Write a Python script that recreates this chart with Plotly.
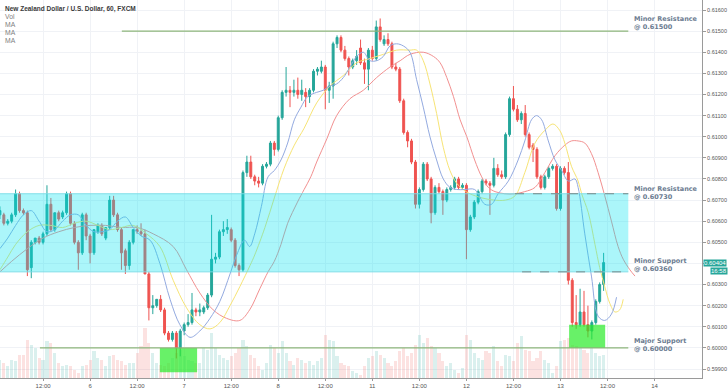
import plotly.graph_objects as go

title_text = "New Zealand Dollar / U.S. Dollar, 60, FXCM"
legend_items = ["Vol", "MA", "MA", "MA"]

hours = list(range(1, 156))
opens = [
    .6063, .6063, .6059, .6060, .6063, .6073, .6065, .6064, .6038, .6050,
    .6052, .6050, .6054, .6068, .6056, .6064, .6062, .6064, .6073, .6059,
    .6050, .6045, .6063, .6053, .6045, .6055, .6058, .6052, .6057, .6070,
    .6063, .6056, .6046, .6039, .6050, .6056, .6055, .6054, .6035, .6019,
    .6020, .6023, .6018, .6007, .6004, .6007, .6000, .6008, .6011, .6012,
    .6018, .6017, .6017, .6019, .6025, .6042, .6043, .6055, .6056, .6056,
    .6051, .6039, .6037, .6083, .6088, .6081, .6079, .6078, .6086, .6087,
    .6097, .6094, .6109, .6121, .6122, .6121, .6122, .6120, .6121, .6119,
    .6122, .6131, .6131, .6133, .6122, .6124, .6144, .6147, .6141, .6137,
    .6133, .6136, .6142, .6135, .6132, .6141, .6137, .6152, .6144, .6146,
    .6144, .6133, .6132, .6117, .6102, .6098, .6088, .6068, .6075, .6087,
    .6080, .6064, .6076, .6074, .6070, .6075, .6076, .6080, .6076, .6077,
    .6056, .6062, .6069, .6074, .6079, .6078, .6077, .6085, .6082, .6081,
    .6101, .6118, .6113, .6108, .6111, .6101, .6096, .6094, .6081, .6076,
    .6081, .6085, .6086, .6066, .6085, .6083, .6032, .6012, .6011, .6017,
    .6011, .6008, .6012, .6022, .6030]
highs = [
    .6067, .6064, .6061, .6064, .6075, .6074, .6066, .6065, .6051, .6052,
    .6053, .6055, .6077, .6071, .6064, .6065, .6065, .6074, .6074, .6060,
    .6051, .6064, .6064, .6054, .6056, .6059, .6059, .6057, .6072, .6072,
    .6064, .6057, .6047, .6051, .6056, .6058, .6059, .6056, .6036, .6025,
    .6023, .6025, .6019, .6008, .6008, .6008, .6009, .6012, .6016, .6026,
    .6019, .6021, .6020, .6026, .6063, .6045, .6056, .6060, .6061, .6057,
    .6052, .6040, .6084, .6091, .6091, .6082, .6081, .6087, .6088, .6098,
    .6098, .6110, .6122, .6133, .6124, .6127, .6128, .6127, .6123, .6123,
    .6132, .6133, .6136, .6134, .6126, .6145, .6148, .6148, .6143, .6138,
    .6137, .6141, .6146, .6137, .6142, .6143, .6155, .6156, .6148, .6149,
    .6145, .6135, .6133, .6118, .6103, .6099, .6089, .6076, .6088, .6088,
    .6081, .6077, .6078, .6075, .6076, .6077, .6081, .6081, .6078, .6078,
    .6063, .6070, .6075, .6080, .6080, .6079, .6090, .6087, .6084, .6102,
    .6119, .6124, .6115, .6112, .6115, .6102, .6097, .6095, .6082, .6082,
    .6086, .6087, .6087, .6086, .6086, .6088, .6033, .6025, .6028, .6027,
    .6020, .6013, .6023, .6031, .6045]
lows = [
    .6061, .6058, .6058, .6059, .6062, .6064, .6063, .6034, .6033, .6049,
    .6049, .6049, .6053, .6055, .6055, .6060, .6061, .6063, .6058, .6049,
    .6037, .6044, .6051, .6040, .6044, .6054, .6053, .6051, .6056, .6062,
    .6055, .6037, .6035, .6037, .6049, .6054, .6053, .6035, .6013, .6016,
    .6019, .6017, .6006, .6003, .6003, .5995, .5996, .6006, .6010, .6011,
    .6015, .6015, .6016, .6018, .6024, .6040, .6042, .6053, .6054, .6050,
    .6038, .6034, .6036, .6081, .6080, .6077, .6076, .6077, .6085, .6086,
    .6091, .6093, .6108, .6119, .6114, .6119, .6118, .6117, .6114, .6116,
    .6121, .6129, .6130, .6113, .6116, .6118, .6142, .6140, .6136, .6129,
    .6132, .6134, .6134, .6125, .6122, .6136, .6136, .6145, .6143, .6143,
    .6132, .6131, .6116, .6101, .6095, .6087, .6066, .6066, .6074, .6079,
    .6059, .6063, .6073, .6063, .6069, .6074, .6075, .6075, .6075, .6042,
    .6055, .6061, .6068, .6073, .6077, .6063, .6076, .6081, .6080, .6080,
    .6100, .6112, .6107, .6106, .6100, .6094, .6088, .6080, .6075, .6075,
    .6080, .6084, .6065, .6065, .6082, .6030, .6010, .6009, .6010, .6010,
    .6005, .6004, .6011, .6021, .6027]
closes = [
    .6065, .6059, .6060, .6063, .6073, .6065, .6064, .6037, .6050, .6052,
    .6050, .6054, .6068, .6056, .6064, .6061, .6064, .6073, .6059, .6050,
    .6045, .6063, .6053, .6045, .6056, .6058, .6054, .6057, .6070, .6063,
    .6056, .6045, .6039, .6050, .6056, .6055, .6054, .6035, .6019, .6020,
    .6023, .6018, .6007, .6004, .6007, .6000, .6008, .6011, .6012, .6018,
    .6017, .6018, .6019, .6025, .6042, .6043, .6055, .6056, .6057, .6051,
    .6039, .6037, .6083, .6088, .6081, .6079, .6078, .6086, .6087, .6097,
    .6094, .6109, .6121, .6122, .6121, .6122, .6120, .6122, .6119, .6122,
    .6131, .6132, .6133, .6122, .6124, .6144, .6147, .6141, .6137, .6133,
    .6136, .6138, .6135, .6132, .6141, .6137, .6152, .6146, .6146, .6144,
    .6133, .6132, .6117, .6102, .6098, .6088, .6068, .6075, .6087, .6080,
    .6064, .6076, .6074, .6070, .6075, .6076, .6080, .6076, .6077, .6056,
    .6062, .6069, .6074, .6079, .6078, .6077, .6085, .6082, .6081, .6101,
    .6118, .6113, .6108, .6111, .6101, .6095, .6094, .6081, .6076, .6081,
    .6085, .6086, .6066, .6085, .6083, .6032, .6012, .6011, .6017, .6011,
    .6008, .6012, .6022, .6030, .60404]
volumes = [
    18, 15, 12, 18, 17, 23, 23, 38, 33, 30, 20, 18, 37, 35, 25, 15, 12, 13, 12, 8,
    5, 12, 13, 18, 27, 20, 18, 12, 22, 23, 18, 17, 13, 15, 15, 25, 32, 50, 35, 25,
    15, 13, 12, 15, 20, 25, 28, 22, 18, 17, 15, 15, 30, 28, 45, 30, 23, 20, 18, 22,
    25, 30, 38, 32, 23, 20, 12, 8, 15, 33, 30, 25, 37, 25, 17, 13, 20, 18, 15, 17,
    13, 17, 20, 43, 38, 37, 22, 15, 13, 12, 7, 5, 3, 12, 20, 22, 27, 23, 20, 15,
    12, 17, 27, 30, 22, 25, 33, 43, 35, 40, 32, 30, 25, 17, 12, 15, 8, 5, 10, 43,
    38, 25, 20, 18, 27, 25, 32, 17, 12, 23, 22, 17, 35, 42, 28, 27, 17, 20, 27, 18,
    15, 5, 12, 37, 38, 40, 33, 32, 30, 28, 25, 30, 25, 22, 23]

ma_fast_x = [1, 3, 5, 7, 9, 11, 13, 15, 17, 19, 21, 23, 25, 27, 29, 31, 33, 35, 37, 39.3,
             41.8, 44.4, 46.9, 49.5, 52, 54.6, 57.1, 59.7, 61.4, 63.4, 64.7, 66, 67.7, 69.4,
             71, 72.7, 74.4, 76.1, 77.8, 79.5, 81.8, 83.5, 85.2, 86.9, 88.6, 90.3, 92, 93.7,
             95.4, 97.1, 98.8, 100.5, 102.2, 103.9, 105.6, 107.3, 109, 110.7, 112.4, 114.1,
             115.8, 117.5, 119.6, 122.1, 124.7, 126.4, 128.1, 130.7, 133.2, 134.9, 136.6,
             137.9, 139.2, 140.9, 142.6, 144.3, 146, 147.7, 148.5, 150.2, 151.9, 153.6,
             155.3, 157, 158.3]
ma_fast_y = [.6047, .6052, .6058, .6063, .6065, .6060, .6055, .6056, .6060, .6063, .6063,
             .6058, .6055, .6055, .6056, .6060, .6062, .6057, .6053, .6051, .6040, .6023,
             .6011, .6005, .6008, .6014, .6022, .6035, .6044, .6051, .6048, .6054, .6067,
             .6081, .6084, .6089, .6097, .6108, .6114, .6119, .6121, .6122, .6124, .6125,
             .6128, .6133, .6138, .6140, .6136, .6136, .6138, .6143, .6144, .6143, .6140,
             .6127, .6114, .6100, .6089, .6080, .6076, .6075, .6075, .6075, .6068, .6068,
             .6073, .6079, .6089, .6098, .6108, .6110, .6108, .6098, .6089, .6084, .6079,
             .6080, .6076, .6054, .6034, .6015, .6013, .6016, .6024]
ma_mid_x = [1, 3, 5, 8, 11, 14, 17, 20, 23, 26, 29, 32, 35, 38.4, 41.8, 45.2, 48.6, 52,
            54.6, 57.1, 59.7, 62.2, 64.8, 66, 68.6, 71, 73.5, 76.1, 78.6, 81.8, 85.2, 88.6,
            92, 95.4, 98.8, 102.2, 105.6, 107.3, 109, 110.7, 112.4, 114.1, 115.8, 117.5,
            119.2, 120.9, 124, 127, 130, 132.4, 134.9, 137.5, 140, 142.1, 143.8, 145.1,
            146.8, 148.5, 149.4, 151.1, 152.8, 154, 155.3, 156.6, 157.9, 159.1, 160]
ma_mid_y = [.6037, .6043, .6049, .6055, .6058, .6058, .6057, .6059, .6060, .6058, .6056,
            .6057, .6058, .6054, .6048, .6032, .6019, .6011, .6009, .6012, .6020, .6029,
            .6039, .6044, .6057, .6071, .6085, .6096, .6104, .6116, .6124, .6129, .6135,
            .6137, .6139, .6141, .6141, .6141, .6136, .6125, .6111, .6095, .6084, .6078,
            .6075, .6073, .6071, .6070, .6070, .6072, .6083, .6097, .6103, .6106, .6103,
            .6097, .6086, .6079, .6073, .6064, .6049, .6038, .6029, .6021, .6017, .6018,
            .6023]
ma_slow_x = [1, 4, 8, 12, 16, 20, 24, 28, 32, 36, 40.1, 45.2, 48.6, 52, 55.4, 58.8, 62.2,
             64.7, 67.3, 69.4, 71, 72.7, 74.4, 76.9, 78.6, 80.3, 81.8, 84.4, 86.9, 90.3,
             93.7, 97.1, 100.5, 103.1, 105.6, 109, 111.6, 113.3, 115, 116.7, 118.4, 120.1,
             122.1, 123.9, 125.6, 127.3, 129.8, 132.4, 134.9, 137.5, 140, 142.6, 145.1,
             146.8, 148.5, 150.2, 151.9, 153.6, 155.3, 157, 158.7, 160, 161.7, 163]
ma_slow_y = [.6036, .6041, .6047, .6052, .6055, .6057, .6058, .6058, .6057, .6057, .6054,
             .6048, .6037, .6026, .6018, .6014, .6013, .6018, .6028, .6036, .6041, .6049,
             .6059, .6069, .6075, .6081, .6088, .6099, .6110, .6118, .6122, .6128, .6133,
             .6136, .6139, .6140, .6138, .6135, .6128, .6119, .6108, .6100, .6089, .6081,
             .6076, .6074, .6073, .6073, .6074, .6076, .6083, .6091, .6096, .6098, .6098,
             .6097, .6092, .6083, .6072, .6060, .6048, .6042, .6037, .6034]

x_tick_vals = [12, 24, 36, 48, 60, 72, 84, 96, 108, 120, 132, 144, 156, 168]
x_tick_text = ["12:00", "6", "12:00", "7", "12:00", "8", "12:00", "11", "12:00", "12",
               "12:00", "13", "12:00", "14"]
price_ticks = [0.599, 0.600, 0.601, 0.602, 0.603, 0.604, 0.605, 0.606, 0.607, 0.608,
               0.609, 0.610, 0.611, 0.612, 0.613, 0.614, 0.615, 0.616]
# the 0.60400 label sits under the last-price tag in the reference
price_tick_text = ["0.59900", "0.60000", "0.60100", "0.60200", "0.60300", "",
                   "0.60500", "0.60600", "0.60700", "0.60800", "0.60900", "0.61000",
                   "0.61100", "0.61200", "0.61300", "0.61400", "0.61500", "0.61600"]

level_resistance = 0.615
level_minor_res = 0.6073
level_minor_sup = 0.6036
level_major_sup = 0.600
level_labels = [("Minor Resistance", "@ 0.61500", level_resistance, 8),
                ("Minor Resistance", "@ 0.60730", level_minor_res, 1),
                ("Minor Support", "@ 0.60360", level_minor_sup, 7),
                ("Major Support", "@ 0.60000", level_major_sup, 3)]
green_zones = [(41.8, 51.3, 0.59885, 0.600), (146.2, 155.4, 0.600, 0.6011)]
last_price_text = "0.60404"
countdown_text = "16:58"

UP = "#26a69a"
DOWN = "#ef5350"

fig = go.Figure()

vol_colors = ["rgba(38,166,154,0.17)" if c >= o else "rgba(239,83,80,0.17)"
              for o, c in zip(opens, closes)]
fig.add_trace(go.Bar(x=hours, y=volumes, marker_color=vol_colors, marker_line_width=0,
                     width=0.8, yaxis="y2", showlegend=False, hoverinfo="skip"))

fig.add_trace(go.Candlestick(
    x=hours, open=opens, high=highs, low=lows, close=closes,
    increasing=dict(line=dict(color=UP, width=1), fillcolor=UP),
    decreasing=dict(line=dict(color=DOWN, width=1), fillcolor=DOWN),
    whiskerwidth=0, showlegend=False))

for xs, ys, col in [(ma_slow_x, ma_slow_y, "#f29090"),
                    (ma_mid_x, ma_mid_y, "#f7e475"),
                    (ma_fast_x, ma_fast_y, "#93aae0")]:
    fig.add_trace(go.Scatter(x=xs, y=ys, mode="lines", line=dict(color=col, width=1, shape="spline"),
                             showlegend=False, hoverinfo="skip"))

x_end = 161.3
shapes = []
shapes.append(dict(type="rect", xref="x", yref="y", x0=0, x1=x_end,
                   y0=level_minor_sup, y1=level_minor_res,
                   fillcolor="rgba(0,228,240,0.33)", line=dict(width=0), layer="above"))
shapes.append(dict(type="line", xref="x", yref="y", x0=0, x1=x_end, y0=level_minor_res,
                   y1=level_minor_res, line=dict(color="rgba(120,220,230,0.9)", width=1), layer="above"))
shapes.append(dict(type="line", xref="x", yref="y", x0=0, x1=x_end, y0=level_minor_sup,
                   y1=level_minor_sup, line=dict(color="rgba(120,220,230,0.9)", width=1), layer="above"))
shapes.append(dict(type="line", xref="x", yref="y", x0=132.4, x1=x_end, y0=level_minor_res,
                   y1=level_minor_res, line=dict(color="#7a8a8a", width=1, dash="dash"), layer="above"))
shapes.append(dict(type="line", xref="x", yref="y", x0=134.2, x1=x_end, y0=level_minor_sup,
                   y1=level_minor_sup, line=dict(color="#7a8a8a", width=1, dash="dash"), layer="above"))
for x0, x1, y0, y1 in green_zones:
    shapes.append(dict(type="rect", xref="x", yref="y", x0=x0, x1=x1, y0=y0, y1=y1,
                       fillcolor="rgba(40,235,40,0.7)", line=dict(width=0), layer="above"))
shapes.append(dict(type="line", xref="x", yref="y", x0=32.1, x1=x_end, y0=level_resistance,
                   y1=level_resistance, line=dict(color="#8db57a", width=1.2), layer="above"))
shapes.append(dict(type="line", xref="x", yref="y", x0=11.2, x1=x_end, y0=level_major_sup,
                   y1=level_major_sup, line=dict(color="#8db57a", width=1.2), layer="above"))

annotations = []
annotations.append(dict(xref="paper", yref="paper", x=0.004, y=1, yshift=-3, xanchor="left",
                        yanchor="top", text="<b>" + title_text + "</b>", showarrow=False,
                        font=dict(family="Liberation Sans", size=6.5, color="#3a3a3a")))
for i, t in enumerate(legend_items):
    annotations.append(dict(xref="paper", yref="paper", x=0.004, y=1, yshift=-10.5 - 8 * i,
                            xanchor="left", yanchor="top", text=t, showarrow=False,
                            font=dict(family="Liberation Sans", size=6.8, color="#808080")))
for l1, l2, lvl, sh in level_labels:
    annotations.append(dict(xref="x", yref="y", x=162.2, y=lvl, yshift=sh, xanchor="left",
                            yanchor="middle", align="left",
                            text="<b>" + l1 + "</b><br><b>" + l2 + "</b>", showarrow=False,
                            font=dict(family="DejaVu Sans", size=6.5, color="#6b7b90")))
annotations.append(dict(xref="paper", yref="y", x=1, y=closes[-1], xshift=1, xanchor="left",
                        yanchor="middle", text=last_price_text, showarrow=False, bgcolor=UP,
                        font=dict(family="Liberation Sans", size=6, color="white"), borderpad=0))
annotations.append(dict(xref="paper", yref="y", x=1, y=closes[-1], xshift=8, yshift=-8,
                        xanchor="left", yanchor="middle", text=countdown_text, showarrow=False,
                        bgcolor=UP, font=dict(family="Liberation Sans", size=6, color="white"),
                        borderpad=0))

fig.update_layout(
    width=728, height=391,
    margin=dict(l=0, r=26, t=0, b=13),
    paper_bgcolor="white", plot_bgcolor="white",
    shapes=shapes, annotations=annotations,
    showlegend=False,
    bargap=0,
    xaxis=dict(range=[1.02, 180.1], tickvals=x_tick_vals, ticktext=x_tick_text,
               showgrid=True, gridcolor="#f0f2f6", gridwidth=1, zeroline=False,
               showline=True, linecolor="#9a9a9a", linewidth=1,
               ticks="outside", ticklen=2, tickcolor="#9a9a9a",
               tickfont=dict(family="Liberation Sans", size=6, color="#555555"),
               rangeslider=dict(visible=False), fixedrange=True),
    yaxis=dict(side="right", range=[0.598574, 0.616474], tickvals=price_ticks,
               ticktext=price_tick_text, showgrid=True, gridcolor="#f0f2f6", gridwidth=1,
               zeroline=False, showline=True, linecolor="#9a9a9a", linewidth=1,
               ticks="outside", ticklen=3, tickcolor="#9a9a9a",
               tickfont=dict(family="Liberation Sans", size=5.5, color="#555555")),
    yaxis2=dict(overlaying="y", range=[0, 378], visible=False, fixedrange=True),
)

fig.write_html("out.html", config={"displayModeBar": False},
               post_script="document.body.style.margin='0';document.body.style.overflow='hidden';")
